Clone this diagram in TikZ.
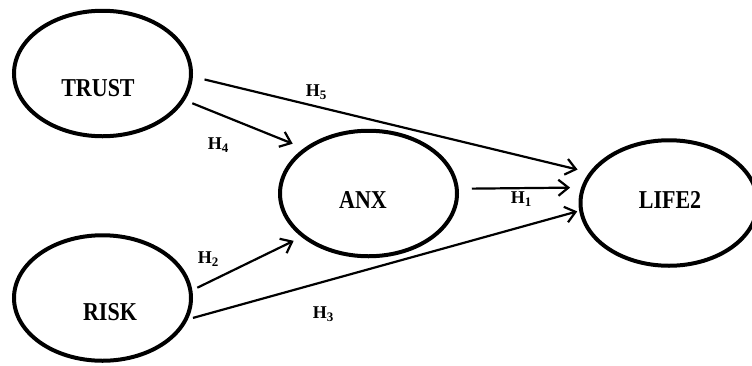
\documentclass[tikz,border=0pt]{standalone}
\usepackage{graphicx}
\usepackage{fontspec}
\setmainfont{Liberation Serif}
\usetikzlibrary{arrows.meta,positioning,shapes.geometric}
\newcommand{\tallbf}[1]{\scalebox{1}[1.17]{#1}}
\newcommand{\hsub}[1]{\raisebox{-2.5pt}{\fontsize{13}{13}\selectfont #1}}

\begin{document}
\begin{tikzpicture}[
  x=1pt, y=-1pt,
  node distance=95pt,
  construct/.style={draw, ellipse, line width=4pt, minimum width=177pt, minimum height=125.5pt, inner sep=0pt},
  latent/.style={font=\fontsize{22}{26}\selectfont\bfseries, inner sep=0pt},
  hyp/.style={font=\fontsize{18}{20}\selectfont\bfseries, inner sep=0pt},
  link/.style={->, line width=2.2pt},
  >={Straight Barb[length=10pt,width=16pt]}
]
\useasboundingbox (0,0) rectangle (752,365);
\node[construct, label={[latent, xshift=-4.5pt, yshift=-14.5pt]center:\tallbf{TRUST}}] (trust) at (102.5,73.5) {};
\node[construct, below=of trust, label={[latent, xshift=7.5pt, yshift=-14pt]center:\tallbf{RISK}}] (risk) {};
\node[construct, label={[latent, xshift=-5.5pt, yshift=-6.5pt]center:\tallbf{ANX}}] (anx) at (368.5,193.5) {};
\node[construct, label={[latent, xshift=1pt, yshift=3pt]center:\tallbf{LIFE2}}] (life2) at (669,203) {};
% hypotheses
\node[hyp] (h5) at (316,92) {H\hsub{5}};
\node[hyp] (h4) at (218,145) {H\hsub{4}};
\node[hyp] (h1) at (521,199) {H\hsub{1}};
\node[hyp] (h2) at (208,259) {H\hsub{2}};
\node[hyp] (h3) at (323,314) {H\hsub{3}};
\draw[link, shorten <=12pt, shorten >=12pt] (trust.-2.5) -- (life2.159);
\draw[link, shorten <=8pt, shorten >=12pt] (trust.-18) -- (anx.145.7);
\draw[link, shorten <=13pt, shorten >=11pt] (anx.3.9) -- (life2.170.5);
\draw[link, shorten <=5.5pt, shorten >=8.7pt] (risk.5.3) -- (anx.-147.8);
\draw[link, shorten <=5.2pt, shorten >=2pt] (risk.-14.4) -- (life2.-175.7);
\end{tikzpicture}
\end{document}
